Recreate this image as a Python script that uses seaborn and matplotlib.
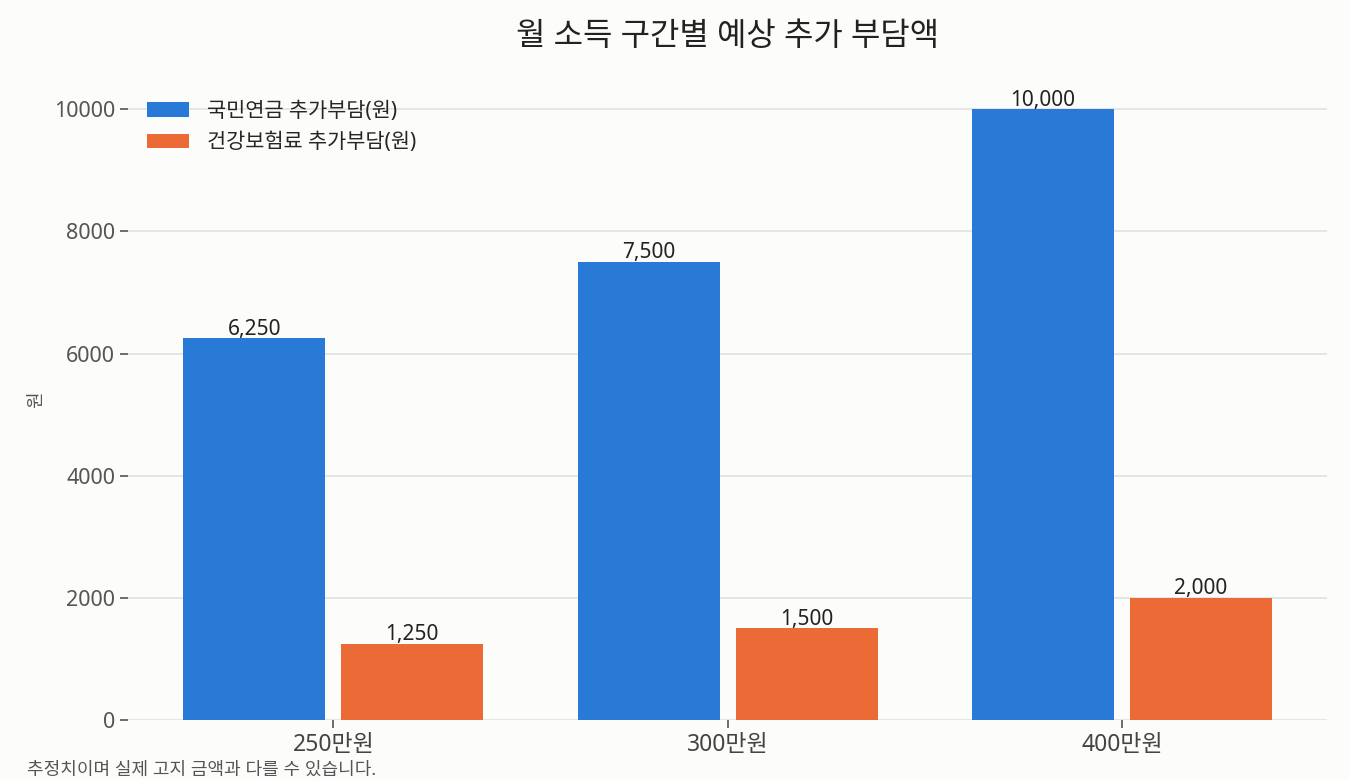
import pandas as pd
import matplotlib
matplotlib.use("Agg")
import matplotlib.pyplot as plt
import seaborn as sns

# data
income_bands = ["250만원", "300만원", "400만원"]
pension_extra = [6250, 7500, 10000]
health_extra = [1250, 1500, 2000]
series_names = ["국민연금 추가부담(원)", "건강보험료 추가부담(원)"]
colors = ["#2979D6", "#EC6A35"]

df = pd.DataFrame({
    "구간": income_bands * 2,
    "항목": [series_names[0]] * 3 + [series_names[1]] * 3,
    "금액": pension_extra + health_extra,
})

sns.set_theme(style="white")
plt.rcParams["font.family"] = ["Noto Sans", "Noto Sans CJK KR", "DejaVu Sans"]
bg = "#FCFCFA"

fig, ax = plt.subplots(figsize=(13.5, 7.8), dpi=100)
fig.patch.set_facecolor(bg)
ax.set_facecolor(bg)

sns.barplot(data=df, x="구간", y="금액", hue="항목", palette=colors,
            width=0.8, gap=0.1, saturation=1, linewidth=0, ax=ax)

for cont in ax.containers:
    ax.bar_label(cont, labels=[f"{v:,.0f}" for v in cont.datavalues],
                 fontsize=15, color="#222222", padding=-1)

ax.set_xlim(-0.52, 2.52)
ax.set_ylim(0, 10500)
ax.yaxis.grid(True, color="#E3E3E3", linewidth=1.3)
ax.set_axisbelow(True)
for s in ax.spines.values():
    s.set_visible(False)

ax.tick_params(axis="both", which="major", length=6, width=1.2, color="#555555",
               bottom=True, left=True)
ax.tick_params(axis="x", labelsize=16.5, labelcolor="#444444")
ax.tick_params(axis="y", labelsize=15.5, labelcolor="#555555")

ax.set_xlabel("")
ax.set_ylabel("원", fontsize=13, color="#555555", labelpad=6)
ax.set_title("월 소득 구간별 예상 추가 부담액", fontsize=23, color="#222222", pad=24)

ax.legend(loc="upper left", bbox_to_anchor=(0.0, 0.995), frameon=False, fontsize=15,
          handlelength=2.0, handletextpad=0.9, labelspacing=0.5)

fig.text(0.02, 0.007, "추정치이며 실제 고지 금액과 다를 수 있습니다.",
         fontsize=13, color="#555555")

fig.subplots_adjust(left=0.095, right=0.983, top=0.899, bottom=0.077)
fig.savefig("out.png", dpi=100, facecolor=bg)
